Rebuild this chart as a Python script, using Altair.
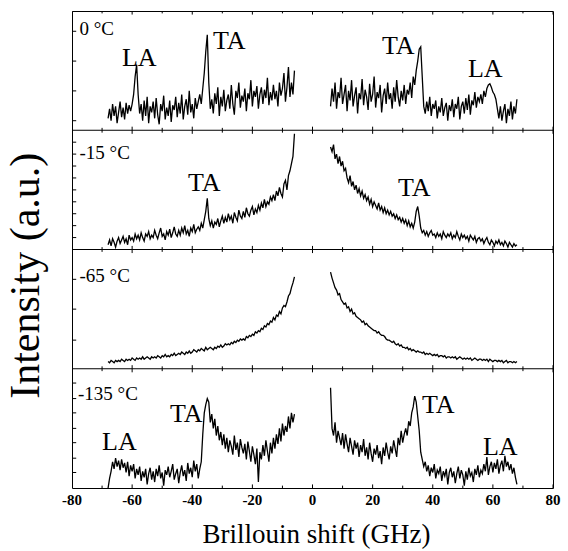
import altair as alt
import numpy as np
import pandas as pd

# ---------------- data ----------------
# sampling of each half spectrum (GHz)
LEFT_START, RIGHT_START, STEP = -68.0, 6.0, 0.5

panel_names = ["0 °C", "-15 °C", "-65 °C", "-135 °C"]

# intensities in % of the panel height
p0_left = [10, 18, 8, 22, 12, 20, 6, 15, 24, 11,
           19, 9, 23, 14, 21, 16, 22, 30, 45, 55,
           30, 14, 22, 8, 25, 12, 28, 6, 20, 15,
           24, 10, 27, 13, 5, 22, 16, 29, 9, 19,
           12, 25, 7, 21, 17, 28, 11, 23, 14, 30,
           9, 20, 26, 13, 33, 15, 22, 10, 27, 18,
           24, 30, 22, 35, 48, 66, 80, 40, 18, 26,
           14, 31, 22, 36, 12, 28, 20, 34, 16, 25,
           30, 18, 38, 22, 13, 33, 27, 40, 19, 29,
           24, 35, 16, 31, 26, 42, 20, 33, 28, 37,
           18, 30, 36, 22, 34, 27, 44, 21, 32, 25,
           38, 26, 33, 20, 40, 29, 35, 48, 24, 36,
           53, 28, 40, 30, 50]
p0_right = [20, 35, 24, 40, 18, 32, 27, 44, 22, 30,
            38, 16, 33, 25, 42, 20, 29, 36, 14, 31,
            26, 43, 21, 34, 28, 17, 39, 24, 30, 45,
            19, 32, 27, 38, 15, 29, 35, 22, 40, 26,
            31, 18, 36, 24, 42, 28, 20, 33, 25, 38,
            22, 34, 30, 40, 27, 45, 38, 50, 58, 68,
            70, 45, 20, 14, 24, 16, 28, 12, 22, 18,
            25, 10, 20, 15, 27, 12, 19, 23, 8, 21,
            16, 26, 11, 22, 18, 28, 9, 20, 24, 14,
            27, 17, 30, 13, 25, 21, 32, 19, 28, 24,
            30, 22, 33, 28, 35, 38, 39, 36, 32, 30,
            26, 18, 10, 20, 8, 16, 22, 6, 18, 12,
            24, 9, 20, 14, 26]
p1_left = [4, 8, 3, 9, 6, 2, 7, 10, 5, 8,
           11, 6, 9, 4, 12, 8, 10, 7, 13, 9,
           12, 8, 14, 10, 7, 13, 11, 15, 9, 12,
           10, 16, 12, 9, 14, 18, 11, 13, 8, 15,
           12, 17, 10, 14, 19, 13, 11, 16, 12, 18,
           14, 20, 13, 16, 11, 18, 15, 21, 14, 17,
           19, 16, 22, 18, 25, 32, 43, 26, 20, 24,
           18, 23, 21, 26, 19, 24, 28, 22, 27, 23,
           30, 25, 28, 22, 31, 27, 24, 33, 28, 26,
           32, 27, 35, 30, 28, 33, 36, 29, 34, 31,
           37, 33, 39, 35, 42, 36, 40, 38, 44, 41,
           46, 41, 49, 45, 52, 47, 44, 55, 58, 50,
           62, 66, 72, 78, 97]
p1_right = [86, 82, 88, 76, 80, 72, 78, 70, 74, 66,
            68, 60, 56, 62, 53, 57, 50, 54, 47, 51,
            45, 49, 43, 46, 41, 44, 38, 42, 36, 40,
            37, 34, 39, 33, 36, 31, 35, 30, 33, 29,
            32, 28, 30, 26, 29, 25, 27, 23, 26, 22,
            25, 20, 24, 19, 22, 18, 23, 32, 36, 28,
            18, 14, 16, 12, 15, 11, 14, 16, 12, 13,
            10, 14, 11, 13, 9, 15, 12, 10, 13, 11,
            14, 9, 12, 10, 15, 11, 8, 13, 10, 12,
            9, 11, 7, 12, 10, 8, 11, 6, 9, 10,
            7, 9, 5, 8, 10, 6, 4, 8, 6, 3,
            7, 5, 8, 4, 6, 3, 7, 5, 2, 6,
            4, 2, 5, 3, 4]
p2_left = [6, 5, 7, 6, 5, 7, 6, 7, 6, 8,
           7, 6, 8, 7, 8, 7, 9, 8, 7, 9,
           8, 9, 8, 10, 8, 9, 10, 9, 8, 10,
           9, 10, 9, 11, 10, 9, 11, 10, 12, 10,
           11, 10, 12, 11, 13, 11, 12, 13, 12, 14,
           13, 12, 14, 13, 15, 13, 14, 16, 15, 14,
           16, 15, 17, 16, 15, 18, 16, 17, 18, 17,
           16, 18, 17, 19, 18, 20, 18, 19, 21, 20,
           21, 20, 22, 21, 23, 22, 24, 23, 25, 24,
           25, 24, 27, 26, 28, 27, 29, 28, 31, 30,
           32, 31, 34, 33, 36, 35, 38, 37, 40, 39,
           43, 41, 45, 44, 48, 46, 51, 53, 52, 56,
           61, 63, 68, 72, 77]
p2_right = [81, 76, 72, 68, 66, 62, 63, 58, 56, 54,
            55, 51, 52, 48, 50, 46, 47, 44, 43, 42,
            41, 39, 40, 37, 38, 36, 35, 34, 33, 32,
            32, 30, 31, 29, 28, 28, 27, 25, 24, 24,
            23, 22, 23, 21, 20, 21, 19, 20, 18, 18,
            17, 18, 16, 17, 15, 16, 15, 14, 15, 14,
            14, 13, 14, 12, 13, 12, 13, 12, 11, 12,
            11, 12, 10, 11, 11, 10, 11, 9, 10, 10,
            9, 10, 9, 10, 8, 9, 10, 9, 8, 9,
            8, 9, 8, 9, 7, 8, 9, 8, 7, 8,
            8, 7, 8, 7, 8, 6, 8, 7, 6, 7,
            7, 6, 7, 6, 7, 5, 6, 7, 5, 6,
            6, 5, 6, 5, 6]
p3_left = [0, 8, 14, 22, 16, 25, 18, 23, 15, 24,
           17, 21, 13, 22, 10, 19, 14, 20, 8, 16,
           11, 18, 6, 14, 9, 16, 3, 12, 17, 7,
           14, 5, 16, 10, 19, 8, 13, 2, 15, 11,
           18, 9, 14, 20, 7, 12, 16, 4, 13, 19,
           10, 15, 6, 21, 12, 17, 9, 23, 14, 20,
           8, 16, 22, 45, 63, 70, 75, 72, 55, 62,
           50, 58, 44, 52, 40, 47, 36, 45, 33, 42,
           30, 40, 35, 28, 44, 32, 38, 26, 41, 34,
           29, 37, 24, 39, 31, 22, 35, 28, 20, 33,
           5, 30, 24, 36, 27, 40, 31, 22, 38, 29,
           42, 33, 45, 37, 50, 39, 54, 44, 52, 47,
           60, 50, 63, 55, 62]
p3_right = [84, 50, 44, 55, 38, 48, 42, 36, 46, 33,
            45, 37, 30, 42, 35, 28, 40, 33, 38, 26,
            36, 30, 41, 27, 34, 24, 38, 29, 22, 33,
            28, 36, 25, 31, 20, 34, 27, 38, 30, 24,
            35, 29, 40, 33, 26, 42, 36, 48, 38, 45,
            50, 44, 56, 52, 63, 68, 77, 72, 60, 48,
            30, 24, 18, 22, 14, 19, 10, 17, 13, 20,
            8, 15, 12, 18, 6, 14, 10, 16, 3, 13,
            17, 9, 14, 4, 12, 18, 8, 15, 11, 2,
            14, 7, 17, 10, 13, 5, 16, 11, 19, 9,
            15, 12, 20, 14, 26, 11, 18, 22, 13, 21,
            16, 24, 12, 19, 23, 14, 27, 18, 22, 15,
            20, 12, 17, 9, 3]

spectra = [(p0_left, p0_right), (p1_left, p1_right),
           (p2_left, p2_right), (p3_left, p3_right)]

# peak labels
annot_text = ["LA", "TA", "TA", "LA", "TA", "TA", "TA", "LA", "TA", "LA"]
annot_x = [-63.4, -33.1, 23.1, 51.7, -41.4, 28.4, -47.4, -70.0, 36.4, 56.7]
annot_y = [3.54, 3.68, 3.64, 3.45, 2.49, 2.45, 0.55, 0.32, 0.63, 0.28]

# temperature labels
temp_x = [-77.5, -77.5, -77.5, -78.0]
temp_y = [3.80, 2.76, 1.73, 0.74]

# axis texts
x_title = "Brillouin shift (GHz)"
y_title = "Intensity (a.u.)"

# tick marks
x_major = [-80, -60, -40, -20, 0, 20, 40, 60, 80]
x_minor = [-70, -50, -30, -10, 10, 30, 50, 70]
boundaries = [0, 1, 2, 3, 4]
y_ticks = [3.08, 3.33, 3.58, 3.83,
           2.1, 2.2, 2.3, 2.4, 2.5, 2.6, 2.7, 2.8, 2.9,
           1.24, 1.5, 1.75,
           0.13, 0.25, 0.38, 0.5, 0.63, 0.75, 0.88]

# ---------------- tables ----------------
rows = []
for i, (left, right) in enumerate(spectra):
    offset = 3 - i
    for side, start, vals in (("L", LEFT_START, left), ("R", RIGHT_START, right)):
        for k, v in enumerate(vals):
            rows.append({"shift": start + STEP * k, "y": offset + v / 100.0,
                         "series": f"{i}{side}", "order": k})
spec_df = pd.DataFrame(rows)

annot_df = pd.DataFrame({"x": annot_x, "y": annot_y, "t": annot_text})
temp_df = pd.DataFrame({"x": temp_x, "y": temp_y, "t": panel_names})
xlab_df = pd.DataFrame({"x": x_major, "y": [0] * len(x_major),
                        "t": [str(v) for v in x_major]})
xtitle_df = pd.DataFrame({"x": [0.0], "y": [0.0], "t": [x_title]})
ytitle_df = pd.DataFrame({"x": [-91.0], "y": [1.78], "t": [y_title]})

xt_rows = []
for b in boundaries:
    for v in x_major:
        xt_rows.append({"x": v, "y1": b - 0.03, "y2": b + 0.03})
    for v in x_minor:
        xt_rows.append({"x": v, "y1": b - 0.02, "y2": b + 0.02})
xt_df = pd.DataFrame(xt_rows)
yt_df = pd.DataFrame({"y": y_ticks, "x1": [-80] * len(y_ticks), "x2": [-78.6] * len(y_ticks)})
bd_df = pd.DataFrame({"b": boundaries[1:-1]})

SERIF = "Liberation Serif"
xscale = alt.Scale(domain=[-80, 80], nice=False, zero=False)
yscale = alt.Scale(domain=[0, 4], nice=False, zero=False)


def X(field):
    return alt.X(field, scale=xscale, axis=None)


def Y(field):
    return alt.Y(field, scale=yscale, axis=None)


lines = alt.Chart(spec_df).mark_line(color="black", strokeWidth=1.3, clip=True).encode(
    x=X("shift:Q"), y=Y("y:Q"), detail="series:N", order="order:Q")

bounds = alt.Chart(bd_df).mark_rule(color="black", strokeWidth=1).encode(y=Y("b:Q"))

xticks = alt.Chart(xt_df).mark_rule(color="black", strokeWidth=1, clip=True).encode(
    x=X("x:Q"), y=Y("y1:Q"), y2="y2:Q")

yticks = alt.Chart(yt_df).mark_rule(color="black", strokeWidth=1).encode(
    y=Y("y:Q"), x=X("x1:Q"), x2="x2:Q")

annots = alt.Chart(annot_df).mark_text(align="left", baseline="alphabetic", font=SERIF,
                                       fontSize=26, color="black").encode(
    x=X("x:Q"), y=Y("y:Q"), text="t:N")

temps = alt.Chart(temp_df).mark_text(align="left", baseline="alphabetic", font=SERIF,
                                     fontSize=19, color="black").encode(
    x=X("x:Q"), y=Y("y:Q"), text="t:N")

xlabels = alt.Chart(xlab_df).mark_text(align="center", baseline="alphabetic", font=SERIF,
                                       fontSize=15, fontWeight="bold", color="black",
                                       dy=17).encode(
    x=X("x:Q"), y=Y("y:Q"), text="t:N")

xtitle = alt.Chart(xtitle_df).mark_text(align="center", baseline="alphabetic", font=SERIF,
                                        fontSize=27, color="black", dy=55, dx=4).encode(
    x=X("x:Q"), y=Y("y:Q"), text="t:N")

ytitle = alt.Chart(ytitle_df).mark_text(align="center", baseline="alphabetic", font=SERIF,
                                        fontSize=42, color="black", angle=270).encode(
    x=X("x:Q"), y=Y("y:Q"), text="t:N")

chart = alt.layer(lines, bounds, xticks, yticks, annots, temps,
                  xlabels, xtitle, ytitle).properties(
    width=481, height=477,
    autosize=alt.AutoSizeParams(type="none"),
    padding={"left": 72, "top": 11, "right": 15, "bottom": 63},
    background="white",
).configure_view(stroke="black", strokeWidth=1)

chart.save("out.html", embed_options={"renderer": "svg", "actions": False})
